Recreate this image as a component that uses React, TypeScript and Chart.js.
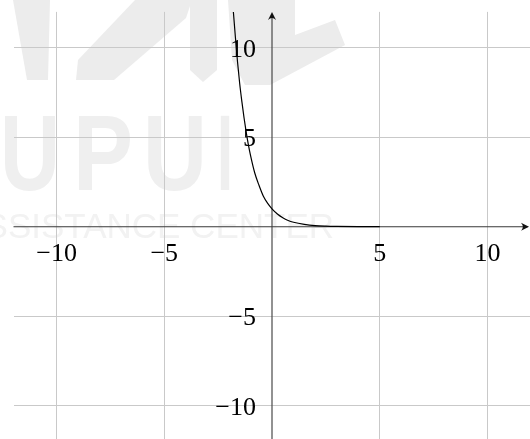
import React, { useEffect, useRef } from "react";
import { Chart, registerables } from "chart.js";

Chart.register(...registerables);

// Sampled points of the decaying curve
const curveX = [-1.82, -1.7, -1.6, -1.5, -1.4, -1.3, -1.2, -1.1, -1.0, -0.8, -0.6, -0.4, -0.2, 0, 0.25, 0.5, 0.75, 1, 1.5, 2, 2.5, 3, 4, 5];
const curveY = [12.4, 10.6, 9.2, 8.0, 7.0, 6.1, 5.3, 4.6, 4.0, 3.0, 2.3, 1.7, 1.3, 1.0, 0.71, 0.5, 0.35, 0.25, 0.13, 0.06, 0.03, 0.016, 0.004, 0.001];

// Axis extents and tick marks
const axisMin = -12;
const axisMax = 12;
const xTicks = [-10, -5, 5, 10];
const yTicks = [-10, -5, 5, 10];

const fmt = (v: number) => (v < 0 ? "\u2212" + Math.abs(v) : String(v));

const backdrop = {
  id: "backdrop",
  beforeDraw(chart: any) {
    const ctx = chart.ctx as CanvasRenderingContext2D;
    ctx.save();
    ctx.fillStyle = "#ffffff";
    ctx.fillRect(0, 0, chart.width, chart.height);

    // faint logo strokes
    ctx.fillStyle = "#ececec";
    const shapes: number[][][] = [
      [[13, 0], [50, 0], [48, 80], [27, 80]],
      [[135, 0], [192, 0], [186, 18], [114, 80], [76, 80], [78, 60]],
      [[190, 0], [217, 0], [217, 70], [203, 82], [190, 70]],
      [[228, 0], [295, 0], [295, 35], [335, 20], [345, 45], [270, 85], [245, 85], [232, 60]],
    ];
    for (const s of shapes) {
      ctx.beginPath();
      s.forEach(([x, y], i) => (i ? ctx.lineTo(x, y) : ctx.moveTo(x, y)));
      ctx.closePath();
      ctx.fill();
    }

    ctx.fillStyle = "#efefef";
    ctx.font = "bold 107px 'Liberation Sans'";
    ctx.textBaseline = "alphabetic";
    ctx.textAlign = "left";
    const letters: [string, number, number][] = [
      ["U", 0, 60],
      ["P", 73, 60],
      ["U", 143, 64],
      ["I", 217, 16],
    ];
    for (const [ch, x, w] of letters) ctx.fillText(ch, x, 190, w);

    ctx.fillStyle = "#f2f2f2";
    ctx.font = "35px 'Liberation Sans'";
    ctx.textAlign = "right";
    ctx.fillText("ASSISTANCE CENTER", 334, 238);
    ctx.restore();
  },
};

function arrow(ctx: CanvasRenderingContext2D, x: number, y: number, dx: number, dy: number) {
  const len = 8;
  const half = 4;
  const px = -dy;
  const py = dx;
  ctx.beginPath();
  ctx.moveTo(x, y);
  ctx.lineTo(x - dx * len + px * half, y - dy * len + py * half);
  ctx.quadraticCurveTo(x - dx * len * 0.55, y - dy * len * 0.55, x - dx * len - px * half, y - dy * len - py * half);
  ctx.closePath();
  ctx.fill();
}

const centerAxes = {
  id: "centerAxes",
  beforeDatasetsDraw(chart: any) {
    const ctx = chart.ctx as CanvasRenderingContext2D;
    const xs = chart.scales.x;
    const ys = chart.scales.y;
    const x0 = xs.getPixelForValue(0);
    const y0 = ys.getPixelForValue(0);
    const left = xs.getPixelForValue(axisMin);
    const right = xs.getPixelForValue(axisMax);
    const top = ys.getPixelForValue(axisMax);
    const bottom = ys.getPixelForValue(axisMin);
    ctx.save();
    ctx.strokeStyle = "#3a3a3a";
    ctx.fillStyle = "#111111";
    ctx.lineWidth = 1.1;
    ctx.beginPath();
    ctx.moveTo(left, y0);
    ctx.lineTo(right - 3, y0);
    ctx.moveTo(x0, bottom);
    ctx.lineTo(x0, top + 3);
    ctx.stroke();
    arrow(ctx, right - 1.5, y0, 1, 0);
    arrow(ctx, x0, top, 0, -1);
    ctx.restore();
  },
  afterDatasetsDraw(chart: any) {
    const ctx = chart.ctx as CanvasRenderingContext2D;
    const xs = chart.scales.x;
    const ys = chart.scales.y;
    const x0 = xs.getPixelForValue(0);
    const y0 = ys.getPixelForValue(0);
    ctx.save();
    ctx.fillStyle = "#000000";
    ctx.font = "26px 'Liberation Serif'";
    ctx.textBaseline = "alphabetic";
    ctx.textAlign = "center";
    for (const v of xTicks) ctx.fillText(fmt(v), xs.getPixelForValue(v), y0 + 34);
    ctx.textAlign = "right";
    for (const v of yTicks) ctx.fillText(fmt(v), x0 - 16, ys.getPixelForValue(v) + 9);
    ctx.restore();
  },
};

export default function App() {
  const ref = useRef<HTMLCanvasElement | null>(null);

  useEffect(() => {
    document.body.style.margin = "0";
    const canvas = ref.current;
    if (!canvas) return;
    const grid = {
      color: (c: any) => (c.tick && c.tick.value === 0 ? "rgba(0,0,0,0)" : "#c9c9c9"),
      lineWidth: 1,
      drawTicks: false,
    };
    const chart = new Chart(canvas, {
      type: "line",
      data: {
        datasets: [
          {
            data: curveX.map((x, i) => ({ x, y: curveY[i] })),
            borderColor: "#000000",
            borderWidth: 1.2,
            pointRadius: 0,
            fill: false,
            cubicInterpolationMode: "monotone",
          },
        ],
      },
      options: {
        responsive: false,
        animation: false,
        devicePixelRatio: 1,
        layout: { padding: { left: 13.5, right: 1.5, top: 11.9, bottom: 4.5 } },
        plugins: { legend: { display: false }, tooltip: { enabled: false } },
        scales: {
          x: {
            type: "linear",
            min: axisMin,
            max: axisMax,
            afterBuildTicks: (s: any) => {
              s.ticks = xTicks.map((value) => ({ value }));
            },
            ticks: { display: false, padding: 0 },
            grid,
            border: { display: false },
          },
          y: {
            type: "linear",
            min: axisMin,
            max: axisMax,
            afterBuildTicks: (s: any) => {
              s.ticks = yTicks.map((value) => ({ value }));
            },
            ticks: { display: false, padding: 0 },
            grid,
            border: { display: false },
          },
        },
      },
      plugins: [backdrop, centerAxes],
    });
    return () => chart.destroy();
  }, []);

  return (
    <div style={{ position: "relative", width: 530, height: 439, overflow: "hidden" }}>
      <canvas ref={ref} width={532} height={446} style={{ position: "absolute", left: 0, top: 0 }} />
    </div>
  );
}
